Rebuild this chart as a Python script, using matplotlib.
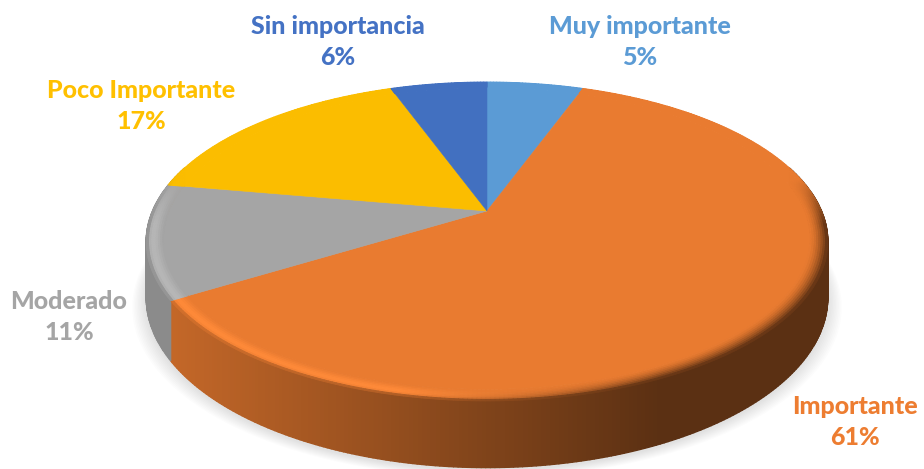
from __future__ import annotations

import matplotlib

matplotlib.use("Agg")
import matplotlib.pyplot as plt
import numpy as np
from matplotlib.collections import PolyCollection

labels = ["Muy importante", "Importante", "Moderado", "Poco Importante", "Sin importancia"]
percent_labels = ["5%", "61%", "11%", "17%", "6%"]
shares = [5.5, 60.7, 11.6, 16.7, 5.5]
colors = ["#5b9bd5", "#e97b30", "#a5a5a5", "#fbbd00", "#4270c0"]
text_colors = ["#5b9bd5", "#ed7d31", "#a5a5a5", "#ffc000", "#4472c4"]
label_xy = [(640, 42), (855, 422), (69, 317), (141, 106), (338, 42)]

CX, CY = 487.0, 211.0
SCALE_X, SCALE_Y = 334.5, 153.6
PERSP = 0.191
DEPTH = 54.0
RIM = 0.05


def project(theta: np.ndarray, r: float | np.ndarray = 1.0, lift: float = 0.0):
    # theta runs clockwise from the top of the disc
    u = r * np.sin(theta)
    v = r * np.cos(theta)
    w = 1 + PERSP * v
    return CX + SCALE_X * u / w, CY - SCALE_Y * v / w + lift / w


def shade_at(x: float) -> float:
    return float(np.interp(x, [170, 430, 660], [0.84, 0.60, 0.39]))


def rim_color(base, x, v, s):
    highlight = np.minimum(base * 1.08 + 4, 255)
    dark = base * 0.39
    t = np.clip((x - 400) / 260, 0, 1)
    fade = np.clip((0.22 - v) / 0.3, 0, 1)
    left = base + (highlight - base) * np.sin(np.pi * min(s * 0.8, 1)) ** 2
    if s > 0.8:
        left = left + (base * shade_at(x) - left) * (s - 0.8) / 0.2
    right = base + (dark - base) * s**1.6
    color = (1 - t) * left + t * right
    return (base + (color - base) * fade) / 255


def draw_shadow(ax) -> None:
    theta = np.linspace(0, 2 * np.pi, 300)
    for grow in np.linspace(14, 1, 10):
        x, y = project(theta, 1.0, DEPTH + 2)
        x = CX + (x - CX) * (1 + grow / 340)
        y = y + grow * 0.55
        ax.fill(x, y, color="#000000", alpha=0.012, lw=0, zorder=1)


def draw_pie(ax) -> None:
    edges = np.radians(np.cumsum([0] + shares) * 3.6)
    sides, side_colors = [], []
    for start, stop, color in zip(edges[:-1], edges[1:], colors):
        base = np.array(matplotlib.colors.to_rgb(color)) * 255
        theta = np.linspace(start, stop, max(int((stop - start) * 90), 8))
        for a, b in zip(theta[:-1], theta[1:]):
            if np.cos((a + b) / 2) > 0.3:
                continue
            x0, y0 = project(np.array([a, b]))
            x1, y1 = project(np.array([b, a]), 1.0, DEPTH)
            sides.append(np.column_stack([np.r_[x0, x1], np.r_[y0, y1]]))
            side_colors.append(base * shade_at(x0.mean()) / 255)
    ax.add_collection(
        PolyCollection(sides, facecolors=side_colors, edgecolors=side_colors, linewidths=1.0, zorder=2)
    )

    for start, stop, color in zip(edges[:-1], edges[1:], colors):
        base = np.array(matplotlib.colors.to_rgb(color)) * 255
        theta = np.linspace(start, stop, max(int((stop - start) * 90), 8))
        x, y = project(theta, 1 - RIM)
        apex_x, apex_y = project(np.array([0.0]), 0.0)
        ax.fill(np.r_[apex_x, x], np.r_[apex_y, y], color=color, lw=0.4, zorder=3)

        quads, quad_colors = [], []
        steps = np.linspace(1 - RIM, 1.0, 9)
        for j, (r0, r1) in enumerate(zip(steps[:-1], steps[1:])):
            s = (j + 0.5) / 8
            for a, b in zip(theta[:-1], theta[1:]):
                xa, ya = project(np.array([a, b]), r0)
                xb, yb = project(np.array([b, a]), r1)
                quads.append(np.column_stack([np.r_[xa, xb], np.r_[ya, yb]]))
                quad_colors.append(rim_color(base, xa.mean(), np.cos(a), s))
        ax.add_collection(
            PolyCollection(quads, facecolors=quad_colors, edgecolors=quad_colors, linewidths=0.7, zorder=4)
        )


def main() -> None:
    fig = plt.figure(figsize=(9.24, 4.69), dpi=100)
    ax = fig.add_axes([0, 0, 1, 1])
    ax.set_xlim(0, 924)
    ax.set_ylim(469, 0)
    ax.axis("off")

    draw_shadow(ax)
    draw_pie(ax)

    for label, pct, (x, y), color in zip(labels, percent_labels, label_xy, text_colors):
        ax.text(
            x, y, f"{label}\n{pct}", color=color, ha="center", va="center",
            fontsize=18, fontweight="black", family="Lato", linespacing=1.45, zorder=6,
        )

    fig.savefig("out.png", dpi=100)
    plt.close(fig)


if __name__ == "__main__":
    main()
